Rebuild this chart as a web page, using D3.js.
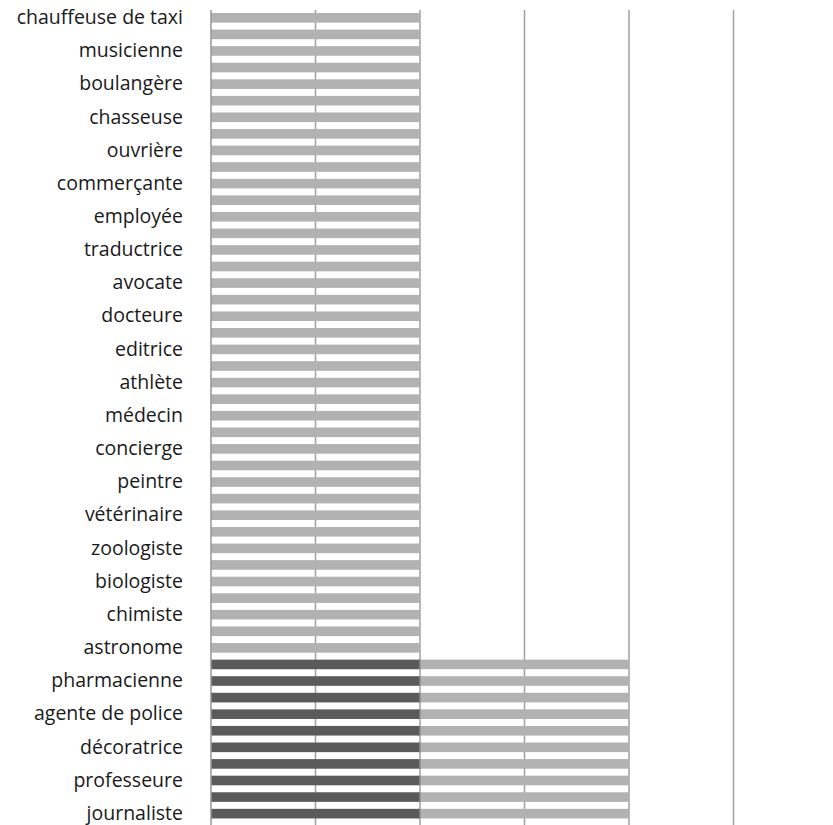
<!DOCTYPE html>
<html>
<head>
<meta charset="utf-8">
<script src="https://cdn.jsdelivr.net/npm/d3@7"></script>
<style>
  html, body { margin: 0; padding: 0; background: #fff; }
  svg { display: block; }
</style>
</head>
<body>
<svg id="chart" width="833" height="825"></svg>
<script>
// Visible category labels (every other row carries a label, top to bottom)
const shownLabels = [
  "chauffeuse de taxi", "musicienne", "boulangère", "chasseuse", "ouvrière",
  "commerçante", "employée", "traductrice", "avocate", "docteure",
  "editrice", "athlète", "médecin", "concierge", "peintre",
  "vétérinaire", "zoologiste", "biologiste", "chimiste", "astronome",
  "pharmacienne", "agente de police", "décoratrice", "professeure", "journaliste"
];
// Row values, top to bottom (49 rows visible)
const darkValues = [
  0,0,0,0,0,0,0,0,0,0, 0,0,0,0,0,0,0,0,0,0,
  0,0,0,0,0,0,0,0,0,0, 0,0,0,0,0,0,0,0,0,
  2,2,2,2,2,2,2,2,2,2
];
const lightValues = [
  2,2,2,2,2,2,2,2,2,2, 2,2,2,2,2,2,2,2,2,2,
  2,2,2,2,2,2,2,2,2,2, 2,2,2,2,2,2,2,2,2,
  2,2,2,2,2,2,2,2,2,2
];
const xTicks = [0, 1, 2, 3, 4, 5];

const rows = darkValues.map((d, i) => ({
  i,
  label: i % 2 === 0 ? shownLabels[i / 2] : "",
  dark: d,
  light: lightValues[i]
}));

const svg = d3.select("#chart");
const rowStep = 16.58;
const padIn = 0.42;
const plotTop = 13 - rowStep * padIn / 2;

const x = d3.scaleLinear().domain([0, 5]).range([211, 733.5]);
const y = d3.scaleBand()
  .domain(rows.map(r => r.i))
  .range([plotTop, plotTop + rowStep * rows.length])
  .paddingInner(padIn)
  .paddingOuter(padIn / 2);

// gridlines
svg.append("g")
  .selectAll("line")
  .data(xTicks.slice(1))
  .join("line")
  .attr("x1", d => x(d)).attr("x2", d => x(d))
  .attr("y1", 10).attr("y2", 825)
  .attr("stroke", "#a0a0a0")
  .attr("stroke-width", 1.5);

// stacked bars
const g = svg.append("g");
g.selectAll("rect.dark")
  .data(rows.filter(r => r.dark > 0))
  .join("rect")
  .attr("class", "dark")
  .attr("x", x(0))
  .attr("y", r => y(r.i))
  .attr("width", r => x(r.dark) - x(0))
  .attr("height", y.bandwidth())
  .attr("fill", "#5a5a5a");

g.selectAll("rect.light")
  .data(rows.filter(r => r.light > 0))
  .join("rect")
  .attr("class", "light")
  .attr("x", r => x(r.dark))
  .attr("y", r => y(r.i))
  .attr("width", r => x(r.dark + r.light) - x(r.dark))
  .attr("height", y.bandwidth())
  .attr("fill", "#b2b2b2");

// separator between stacked segments
g.selectAll("line.sep")
  .data(rows.filter(r => r.dark > 0 && r.light > 0))
  .join("line")
  .attr("class", "sep")
  .attr("x1", r => x(r.dark)).attr("x2", r => x(r.dark))
  .attr("y1", r => y(r.i)).attr("y2", r => y(r.i) + y.bandwidth())
  .attr("stroke", "#8c8c8c")
  .attr("stroke-width", 1.5);

// category axis
const yAxis = d3.axisLeft(y)
  .tickSize(0)
  .tickPadding(0)
  .tickFormat(i => rows[i].label);

const axisG = svg.append("g")
  .attr("transform", `translate(${x(0) - 28},0)`)
  .call(yAxis);
axisG.select(".domain").remove();
axisG.selectAll("text")
  .attr("font-family", "'Open Sans', sans-serif")
  .attr("font-size", 19.5)
  .attr("fill", "#1a1a1a");

svg.append("line")
  .attr("x1", x(0)).attr("x2", x(0))
  .attr("y1", 10).attr("y2", 825)
  .attr("stroke", "#969696")
  .attr("stroke-width", 1.5);
</script>
</body>
</html>
